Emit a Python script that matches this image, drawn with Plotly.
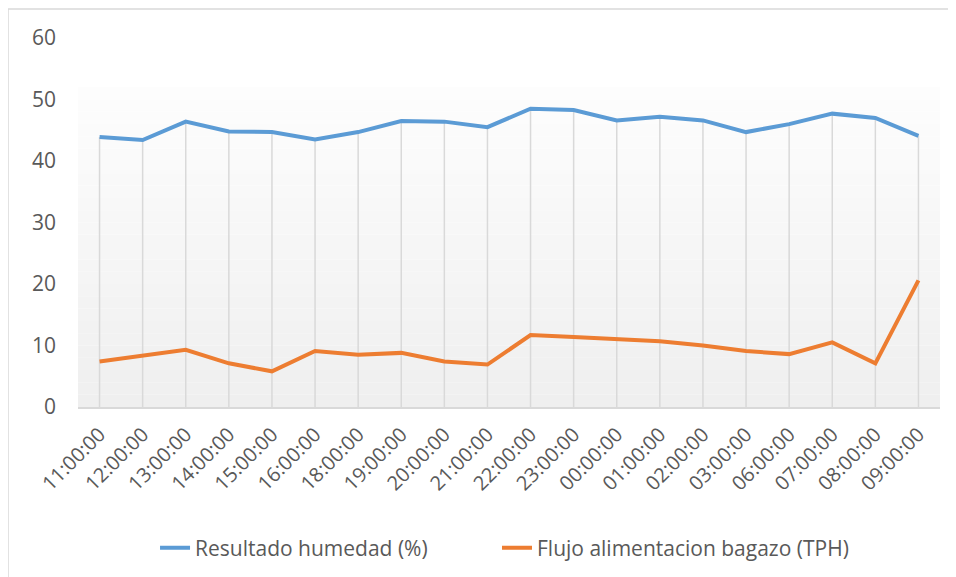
import plotly.graph_objects as go

# ~~~ data ~~~
horas = ["11:00:00", "12:00:00", "13:00:00", "14:00:00", "15:00:00", "16:00:00",
         "18:00:00", "19:00:00", "20:00:00", "21:00:00", "22:00:00", "23:00:00",
         "00:00:00", "01:00:00", "02:00:00", "03:00:00", "06:00:00", "07:00:00",
         "08:00:00", "09:00:00"]
humedad = [43.9, 43.4, 46.4, 44.8, 44.7, 43.5, 44.7, 46.5, 46.4, 45.5,
           48.5, 48.3, 46.6, 47.2, 46.6, 44.7, 46.0, 47.7, 47.0, 44.1]
flujo = [7.4, 8.3, 9.3, 7.1, 5.8, 9.1, 8.5, 8.8, 7.4, 6.9,
         11.7, 11.4, 11.0, 10.7, 10.0, 9.1, 8.6, 10.5, 7.1, 20.6]
y_ticks = [0, 10, 20, 30, 40, 50, 60]

FONT = "Open Sans"
GRIS = "#595959"
LINEA = "#d9d9d9"

fig = go.Figure()

# drop lines from the axis up to the humidity line
drop_x, drop_y = [], []
for h, v in zip(horas, humedad):
    drop_x += [h, h, None]
    drop_y += [0, v, None]
fig.add_trace(go.Scatter(x=drop_x, y=drop_y, mode="lines",
                         line=dict(color=LINEA, width=1.5),
                         hoverinfo="skip", showlegend=False))

fig.add_trace(go.Scatter(x=horas, y=humedad, mode="lines",
                         name="Resultado humedad (%)", legend="legend",
                         line=dict(color="#5b9bd5", width=4)))
fig.add_trace(go.Scatter(x=horas, y=flujo, mode="lines",
                         name="Flujo alimentacion bagazo (TPH)", legend="legend2",
                         line=dict(color="#ed7d31", width=4)))

# soft vertical gradient behind the lines (strips)
n = 26
top = 52
c0, c1 = 0xef, 0xfd
shapes = []
for i in range(n):
    g = round(c0 + (c1 - c0) * i / (n - 1))
    col = "#%02x%02x%02x" % (g, g, g)
    shapes.append(dict(type="rect", xref="x domain", yref="y",
                       x0=0, x1=1, y0=top * i / n, y1=top * (i + 1) / n,
                       fillcolor=col, line_width=0, layer="below"))
# outer chart border
shapes.append(dict(type="rect", xref="paper", yref="paper",
                   x0=-0.0812, x1=1.03, y0=-0.48, y1=1.0787,
                   line=dict(color=LINEA, width=1.5), fillcolor="rgba(0,0,0,0)",
                   layer="below"))

leg = dict(orientation="h", xref="container", yref="container",
           xanchor="left", y=0.064, yanchor="middle",
           font=dict(family=FONT, size=21, color=GRIS))

fig.update_layout(
    width=956, height=577,
    margin=dict(l=70, r=24, t=30, b=178),
    paper_bgcolor="white",
    plot_bgcolor="white",
    font=dict(family=FONT, size=20, color=GRIS),
    shapes=shapes,
    showlegend=True,
    legend=dict(leg, x=0.1538),
    legend2=dict(leg, x=0.5115),
    xaxis=dict(type="category", categoryorder="array", categoryarray=horas,
               range=[-0.5, len(horas) - 0.5],
               showgrid=False, zeroline=False,
               showline=True, linecolor=LINEA, linewidth=1.5,
               ticks="", tickangle=-45, ticklabelstandoff=6,
               tickfont=dict(family=FONT, size=20, color=GRIS)),
    yaxis=dict(range=[0, 60], tickvals=y_ticks, showgrid=False, zeroline=False,
               showline=False, ticks="", ticklabelstandoff=21,
               tickfont=dict(family=FONT, size=21, color=GRIS)),
)

fig.write_html("out.html")
